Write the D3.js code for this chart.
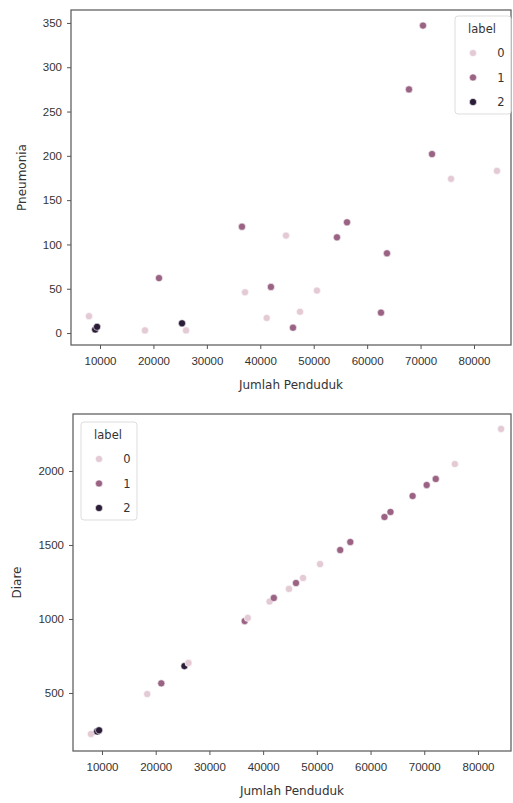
<!DOCTYPE html>
<html>
<head>
<meta charset="utf-8">
<script src="https://cdn.jsdelivr.net/npm/d3@7"></script>
<style>
  body { margin: 0; background: #fff; }
  svg { display: block; font-family: "DejaVu Sans", sans-serif; }
</style>
</head>
<body>
<div id="chart"></div>
<script>
// data
const penduduk  = [7941, 9100, 9450, 18420, 21040, 25350, 26100, 36570, 37140, 41200, 41990, 44810,
                   46120, 47430, 50600, 54350, 56230, 62590, 63710, 67830, 70450, 72140, 75700, 84300];
const pneumonia = [19, 4, 7, 3, 62, 11, 3, 120, 46, 17, 52, 110,
                   6, 24, 48, 108, 125, 23, 90, 275, 347, 202, 174, 183];
const diare     = [223, 240, 248, 493, 565, 682, 703, 986, 1007, 1118, 1142, 1203,
                   1243, 1277, 1371, 1466, 1520, 1689, 1723, 1831, 1905, 1946, 2047, 2284];
const label     = [0, 2, 2, 0, 1, 2, 0, 1, 0, 0, 1, 0,
                   1, 0, 0, 1, 1, 1, 1, 1, 1, 1, 0, 0];
const labelKeys = [0, 1, 2];
const xTicks = [10000, 20000, 30000, 40000, 50000, 60000, 70000, 80000];
const pneumoniaTicks = [0, 50, 100, 150, 200, 250, 300, 350];
const diareTicks = [500, 1000, 1500, 2000];

const width = 513, height = 803;
const color = d3.scaleOrdinal().domain(labelKeys).range(["#e3cad5", "#9a6283", "#2b1c38"]);

const svg = d3.select("#chart").append("svg")
    .attr("width", width)
    .attr("height", height);

function drawPanel(p) {
    const x = d3.scaleLinear().domain(p.xDomain).range([p.left, p.right]);
    const y = d3.scaleLinear().domain(p.yDomain).range([p.bottom, p.top]);

    const g = svg.append("g");

    // x axis
    const gx = g.append("g")
        .attr("transform", `translate(0,${p.bottom})`)
        .call(d3.axisBottom(x).tickValues(xTicks).tickFormat(d3.format("d")).tickSize(4).tickPadding(8).tickSizeOuter(0));
    // y axis
    const gy = g.append("g")
        .attr("transform", `translate(${p.left},0)`)
        .call(d3.axisLeft(y).tickValues(p.yTicks).tickFormat(d3.format("d")).tickSize(4).tickPadding(5).tickSizeOuter(0));

    [gx, gy].forEach(a => {
        a.select(".domain").remove();
        a.selectAll("line").attr("stroke", "#555");
        a.selectAll("text").attr("fill", "#333").style("font-size", "11.5px");
    });

    // frame
    g.append("rect")
        .attr("x", p.left).attr("y", p.top)
        .attr("width", p.right - p.left).attr("height", p.bottom - p.top)
        .attr("fill", "none").attr("stroke", "#555").attr("stroke-width", 1.2);

    // labels
    g.append("text")
        .attr("x", (p.left + p.right) / 2).attr("y", p.bottom + 44)
        .attr("text-anchor", "middle").attr("fill", "#333").style("font-size", "12px")
        .text("Jumlah Penduduk");
    g.append("text")
        .attr("transform", `translate(${p.yLabelX},${(p.top + p.bottom) / 2}) rotate(-90)`)
        .attr("text-anchor", "middle").attr("fill", "#333").style("font-size", "12px")
        .text(p.yLabel);

    // points
    g.append("g").selectAll("circle")
        .data(penduduk.map((v, i) => ({ x: v, y: p.values[i], k: label[i] })))
        .join("circle")
        .attr("cx", d => x(d.x))
        .attr("cy", d => y(d.y))
        .attr("r", 3.6)
        .attr("fill", d => color(d.k))
        .attr("stroke", "#fff")
        .attr("stroke-width", 0.6);

    // legend
    const lg = g.append("g").attr("transform", `translate(${p.legend[0]},${p.legend[1]})`);
    lg.append("rect")
        .attr("width", 56).attr("height", 98).attr("rx", 3)
        .attr("fill", "#fff").attr("fill-opacity", 0.85)
        .attr("stroke", "#ddd");
    lg.append("text")
        .attr("x", 27).attr("y", 17)
        .attr("text-anchor", "middle").attr("fill", "#333").style("font-size", "11.5px")
        .text("label");
    labelKeys.forEach((k, i) => {
        lg.append("circle")
            .attr("cx", 18).attr("cy", 37 + i * 24.5).attr("r", 3.6)
            .attr("fill", color(k)).attr("stroke", "#fff").attr("stroke-width", 0.6);
        lg.append("text")
            .attr("x", 46).attr("y", 41 + i * 24.5)
            .attr("text-anchor", "middle").attr("fill", "#333").style("font-size", "11.5px")
            .text(k);
    });
}

drawPanel({
    left: 71, right: 511, top: 10, bottom: 345,
    xDomain: [4572, 86924], yDomain: [-13.5, 364.6],
    yTicks: pneumoniaTicks, values: pneumonia,
    yLabel: "Pneumonia", yLabelX: 26,
    legend: [455, 16]
});

drawPanel({
    left: 73, right: 511, top: 414, bottom: 751,
    xDomain: [4601, 86150], yDomain: [108, 2385],
    yTicks: diareTicks, values: diare,
    yLabel: "Diare", yLabelX: 21,
    legend: [81, 422]
});
</script>
</body>
</html>
